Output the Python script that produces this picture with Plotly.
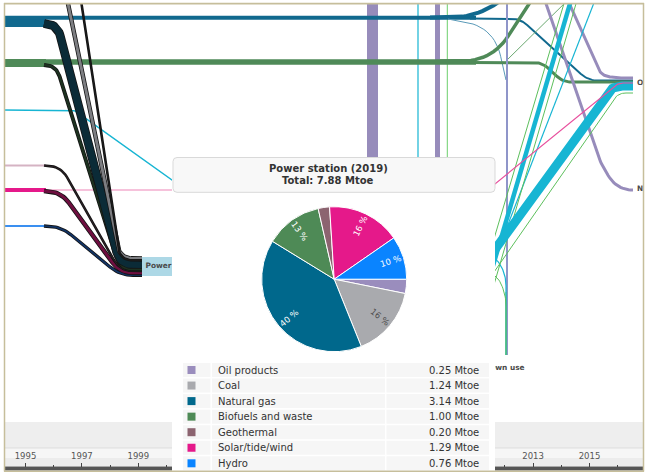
import numpy as np
import plotly.graph_objects as go

# ---------------------------------------------------------------- data
FUELS = ["Oil products", "Coal", "Natural gas", "Biofuels and waste",
         "Geothermal", "Solar/tide/wind", "Hydro"]
MTOE = [0.25, 1.24, 3.14, 1.00, 0.20, 1.29, 0.76]
FUEL_COLORS = ["#9a8dbd", "#a9aaae", "#00688c", "#4e8a56",
               "#8c6470", "#e5198a", "#0a84ff"]
LINK_FILL = ["#1c1c1c", "#7d7e82", "#0b2b37", "#1d3220",
             "#2e2328", "#6e0f40", "#123466"]
NODE_NAME = "Power station"
YEAR = 2019
UNIT = "Mtoe"
AXIS_YEARS = list(range(1995, 2018, 2))
MINOR_YEARS = list(range(1996, 2017, 2))
NODE_LABELS = ["Other", "Non-energy use", "Own use"]

# ---------------------------------------------------------------- layout constants
W, H = 646, 472
FONT = "DejaVu Sans"
PX_PER_MTOE = 2.3
PX_PER_YEAR = 28.2
YEAR0_PX = 25.5
CX, CY, R = 334.2, 279.2, 72.5
PANEL_X0, PANEL_X1 = 172, 495
ELEC = "#17b5d3"
OILC = "#978cbb"
GASC = "#11698e"
BIOC = "#4f8a58"
GREEN = "#5cbf5c"


def rounded_path(pts, r):
    pts = [np.asarray(p, float) for p in pts]
    xs, ys = [pts[0][0]], [pts[0][1]]
    n = len(pts)
    for i in range(1, n - 1):
        a, b, c = pts[i - 1], pts[i], pts[i + 1]
        u = b - a
        lu = np.hypot(*u)
        v = c - b
        lv = np.hypot(*v)
        rr = min(r, lu * (1.0 if i == 1 else 0.5), lv * (1.0 if i == n - 2 else 0.5))
        p0 = b - u / lu * rr
        p1 = b + v / lv * rr
        for t in np.linspace(0, 1, 14):
            q = (1 - t) ** 2 * p0 + 2 * (1 - t) * t * b + t ** 2 * p1
            xs.append(q[0])
            ys.append(q[1])
    xs.append(pts[-1][0])
    ys.append(pts[-1][1])
    return xs, ys


fig = go.Figure()


def flow(pts, color, width, r=12):
    xs, ys = rounded_path(pts, r)
    fig.add_trace(go.Scatter(x=xs, y=ys, mode="lines", hoverinfo="skip",
                             line=dict(color=color, width=width)))


# ---------------------------------------------------------------- background flows
# vertical streams crossing the middle of the diagram
flow([(372.5, -5), (372.5, 420)], OILC, 11)
flow([(437.5, -5), (437.5, 420)], OILC, 5)
flow([(418, -5), (418, 420)], ELEC, 1.2)
flow([(447.3, -5), (447.3, 420)], "#6ccf6c", 1)

# natural gas
flow([(4, 21.5), (46, 21.5)], GASC, 11)
flow([(4, 17.8), (476, 17.8)], GASC, 4)
flow([(430, 17.5), (478, 17.5), (520, -14)], GASC, 4, r=28)
flow([(470, 18.5), (520, 18.5), (588, 80.5), (633, 80.5)], GASC, 2, r=10)
flow([(448, 19), (494, 27), (506, 80)], "#5a9ab8", 1, r=30)

# biofuels
flow([(4, 63), (46, 63)], BIOC, 8)
flow([(4, 62), (476, 62)], BIOC, 5.5)
flow([(440, 61), (492, 61), (542, -16)], BIOC, 3.5, r=30)
flow([(470, 62.5), (542, 62.5), (563, 82), (633, 82)], BIOC, 3, r=8)
flow([(505, 62), (572, -4)], "#6aa870", 1)

# left-side minor sources
flow([(4, 110), (74, 110), (200, 200)], ELEC, 1.5, r=4)
flow([(4, 165.5), (46, 165.5)], "#d5b3c3", 2)
flow([(46, 190), (220, 190)], "#ee86b8", 1.2)
flow([(4, 190), (46, 190)], FUEL_COLORS[5], 4)
flow([(4, 226), (46, 226)], "#3a8ff0", 2)

# right-hand side towards the final-consumption nodes
flow([(507, -5), (507, 355)], "#8f95c9", 2)
flow([(506, 292), (506, 355)], GREEN, 1)
flow([(542, -8), (601, 165), (618, 190), (633, 190)], OILC, 3, r=15)
flow([(565, -6), (601, 75), (615, 78), (633, 78)], OILC, 3, r=12)
flow([(597, -5), (488, 276)], ELEC, 1.2)
flow([(470, 247), (497, 258), (506, 276), (506, 355)], ELEC, 1.2, r=10)
flow([(470, 265), (498, 276), (506, 296), (506, 355)], GREEN, 1, r=10)
flow([(480, 310), (574, -10)], ELEC, 4.5)
flow([(486, 312), (580, -10)], GREEN, 1)
flow([(474, 306), (568, -10)], GREEN, 1)
flow([(434, 333), (612, 86), (633, 86)], ELEC, 9, r=10)
flow([(446, 341), (618, 93), (633, 93)], GREEN, 1, r=8)
flow([(420, 245), (618, 83), (633, 83)], "#e8509e", 1.2, r=6)

# ---------------------------------------------------------------- links into the power-station node
LINK_ROUTE = {
    "Oil products": [(80, -6)],
    "Coal": [(66, -6)],
    "Natural gas": [(44, 23.5), (57, 23.5)],
    "Biofuels and waste": [(44, 65), (56, 65)],
    "Geothermal": [(44, 165.5), (61, 166.5)],
    "Solar/tide/wind": [(44, 191), (61, 192)],
    "Hydro": [(44, 226), (61, 226.5)],
}
NODE_ORDER = ["Coal", "Oil products", "Natural gas", "Biofuels and waste",
              "Geothermal", "Solar/tide/wind", "Hydro"]
NODE_TOP, NODE_TURN_X, NODE_X = 257, 120, 142

link_y = {}
cursor = NODE_TOP
for name in NODE_ORDER:
    w = max(MTOE[FUELS.index(name)] * PX_PER_MTOE, 1.0)
    link_y[name] = (cursor + w / 2, w)
    cursor += w

for name in ["Hydro", "Solar/tide/wind", "Geothermal", "Biofuels and waste",
             "Natural gas", "Coal", "Oil products"]:
    yc, w = link_y[name]
    pts = LINK_ROUTE[name] + [(NODE_TURN_X, yc), (NODE_X, yc)]
    flow(pts, "#141414", w + 1.6, r=13)
    flow(pts, LINK_FILL[FUELS.index(name)], w, r=13)

# node label box and node labels
fig.add_trace(go.Scatter(x=[142, 240, 240, 142, 142], y=[NODE_TOP, NODE_TOP, cursor, cursor, NODE_TOP],
                         mode="lines", fill="toself", fillcolor="#add8e6",
                         line=dict(width=0), hoverinfo="skip"))
fig.add_trace(go.Scatter(
    x=[145.5, 489, 637, 637], y=[266.5, 368, 83, 189.5],
    text=[NODE_NAME, NODE_LABELS[2], NODE_LABELS[0], NODE_LABELS[1]],
    mode="text", textposition="middle right", hoverinfo="skip", cliponaxis=True,
    textfont=dict(family=FONT, size=7.4, color="#4a4a4a", weight="bold")))

# white backdrop of the tooltip panel
fig.add_trace(go.Scatter(x=[PANEL_X0, PANEL_X1, PANEL_X1, PANEL_X0, PANEL_X0],
                         y=[157, 157, 472, 472, 157],
                         mode="lines", fill="toself", fillcolor="white",
                         line=dict(width=0, color="white"), hoverinfo="skip"))

# ---------------------------------------------------------------- pie of inputs
fig.add_trace(go.Pie(
    labels=FUELS, values=MTOE, sort=False, direction="clockwise", rotation=90,
    marker=dict(colors=FUEL_COLORS, line=dict(color="white", width=1)),
    textinfo="none", hoverinfo="skip", showlegend=False,
    domain=dict(x=[(CX - R) / W, (CX + R) / W], y=[(H - CY - R) / H, (H - CY + R) / H])))

# timeline axis carrier
fig.add_trace(go.Scatter(x=[AXIS_YEARS[0]], y=[-100], xaxis="x2", yaxis="y",
                         mode="markers", marker=dict(opacity=0), hoverinfo="skip"))

total = sum(MTOE)
annotations = []
cum = 0.0
for name, v in zip(FUELS, MTOE):
    frac = (cum + v / 2) / total
    cum += v
    pct = 100 * v / total
    if pct < 5:
        continue
    theta = 360 * frac
    rad = np.radians(theta)
    if theta <= 90:
        ang = theta
    elif theta <= 270:
        ang = theta - 180
    else:
        ang = theta - 360
    annotations.append(dict(
        x=CX + 0.82 * R * np.cos(rad), y=CY + 0.82 * R * np.sin(rad),
        xref="x", yref="y", text=f"{pct:.0f} %", showarrow=False, textangle=ang,
        font=dict(family=FONT, size=8.5, color="#4d4d4d" if name == "Coal" else "white")))

# tooltip header
annotations.append(dict(x=328, y=168.3, xref="x", yref="y", showarrow=False,
                        text=f"<b>{NODE_NAME} ({YEAR})</b>",
                        font=dict(family=FONT, size=10, color="#333333")))
annotations.append(dict(x=328, y=180.8, xref="x", yref="y", showarrow=False,
                        text=f"<b>Total: {total:.2f} {UNIT}</b>",
                        font=dict(family=FONT, size=10, color="#333333")))


def rrect(x0, y0, x1, y1, r):
    return (f"M{x0 + r},{y0} L{x1 - r},{y0} Q{x1},{y0} {x1},{y0 + r} L{x1},{y1 - r} "
            f"Q{x1},{y1} {x1 - r},{y1} L{x0 + r},{y1} Q{x0},{y1} {x0},{y1 - r} "
            f"L{x0},{y0 + r} Q{x0},{y0} {x0 + r},{y0} Z")


shapes = [
    # timeline strip at the bottom
    dict(type="rect", xref="x", yref="y", x0=4, x1=644, y0=422, y1=448,
         fillcolor="#eeeeee", line=dict(width=0), layer="below"),
    dict(type="rect", xref="x", yref="y", x0=4, x1=644, y0=448, y1=458,
         fillcolor="#f6f6f6", line=dict(width=0), layer="below"),
    dict(type="rect", xref="x", yref="y", x0=4, x1=644, y0=458, y1=466,
         fillcolor="#ececec", line=dict(width=0), layer="below"),
    dict(type="line", xref="x", yref="y", x0=4, x1=644, y0=448, y1=448,
         line=dict(color="#dddddd", width=1), layer="below"),
    dict(type="rect", xref="x", yref="y", x0=4, x1=644, y0=466.5, y1=470.5,
         fillcolor="#555555", line=dict(width=0), layer="below"),
    # tooltip header box
    dict(type="path", xref="x", yref="y", path=rrect(173, 157.5, 495, 192.3, 4),
         fillcolor="#f8f8f8", line=dict(color="#d9d9d9", width=1), layer="above"),
]

# table of inputs
ROW0, ROWH = 370.0, 15.55
for i, (name, v, col) in enumerate(zip(FUELS, MTOE, FUEL_COLORS)):
    yc = ROW0 + i * ROWH
    for x0, x1 in [(183, 210.5), (212, 385), (386.5, 489)]:
        shapes.append(dict(type="rect", xref="x", yref="y", x0=x0, x1=x1,
                           y0=yc - 7, y1=yc + 7, fillcolor="#f6f6f6",
                           line=dict(width=0), layer="above"))
    shapes.append(dict(type="rect", xref="x", yref="y", x0=187.5, x1=195.5,
                       y0=yc - 4, y1=yc + 4, fillcolor=col, line=dict(width=0),
                       layer="above"))
    annotations.append(dict(x=216, y=yc, xref="x", yref="y", xanchor="left",
                            showarrow=False, text=name,
                            font=dict(family=FONT, size=10, color="#333333")))
    annotations.append(dict(x=480.5, y=yc, xref="x", yref="y", xanchor="right",
                            showarrow=False, text=f"{v:.2f} {UNIT}",
                            font=dict(family=FONT, size=10, color="#333333")))

# outer frame
FRAME = "#c6be9b"
shapes += [
    dict(type="rect", xref="x", yref="y", x0=0, x1=4, y0=0, y1=H, fillcolor="white",
         line=dict(width=0), layer="above"),
    dict(type="rect", xref="x", yref="y", x0=0, x1=W, y0=0, y1=3, fillcolor="white",
         line=dict(width=0), layer="above"),
    dict(type="rect", xref="x", yref="y", x0=644, x1=W, y0=0, y1=H, fillcolor="white",
         line=dict(width=0), layer="above"),
    dict(type="line", xref="x", yref="y", x0=4.5, x1=4.5, y0=3, y1=471.5,
         line=dict(color=FRAME, width=1.5), layer="above"),
    dict(type="line", xref="x", yref="y", x0=4, x1=644, y0=3.6, y1=3.6,
         line=dict(color=FRAME, width=1.6), layer="above"),
    dict(type="line", xref="x", yref="y", x0=643.5, x1=643.5, y0=3, y1=471.5,
         line=dict(color=FRAME, width=1.5), layer="above"),
    dict(type="line", xref="x", yref="y", x0=4, x1=644, y0=471.3, y1=471.3,
         line=dict(color=FRAME, width=1.4), layer="above"),
]

x2_lo = AXIS_YEARS[0] - YEAR0_PX / PX_PER_YEAR
x2_hi = x2_lo + W / PX_PER_YEAR


def year_px(yr):
    return (yr - x2_lo) * PX_PER_YEAR


# year labels that are not under the tooltip panel and fit inside the frame
shown_years = [y for y in AXIS_YEARS
               if (year_px(y) < PANEL_X0 - 12 or year_px(y) > PANEL_X1 + 12)
               and year_px(y) + 12 < W]

fig.update_layout(
    width=W, height=H, margin=dict(l=0, r=0, t=0, b=0),
    paper_bgcolor="white", plot_bgcolor="white", showlegend=False,
    xaxis=dict(range=[0, W], visible=False, fixedrange=True),
    yaxis=dict(range=[H, 0], visible=False, fixedrange=True),
    xaxis2=dict(overlaying="x", anchor="free", position=(H - 466.5) / H, side="top",
                range=[x2_lo, x2_hi], tickmode="array", tickvals=shown_years,
                ticktext=[str(y) for y in shown_years],
                ticks="outside", ticklen=4, tickwidth=1, tickcolor="#444444",
                showgrid=False, zeroline=False, showline=False, fixedrange=True,
                tickfont=dict(family=FONT, size=8.5, color="#555555"),
                layer="below traces", ticklabeloverflow="hide past div",
                minor=dict(tickmode="array", tickvals=MINOR_YEARS, ticks="outside",
                           ticklen=2, tickwidth=1, tickcolor="#444444", showgrid=False)),
    shapes=shapes, annotations=annotations,
)

fig.write_html("out.html")
